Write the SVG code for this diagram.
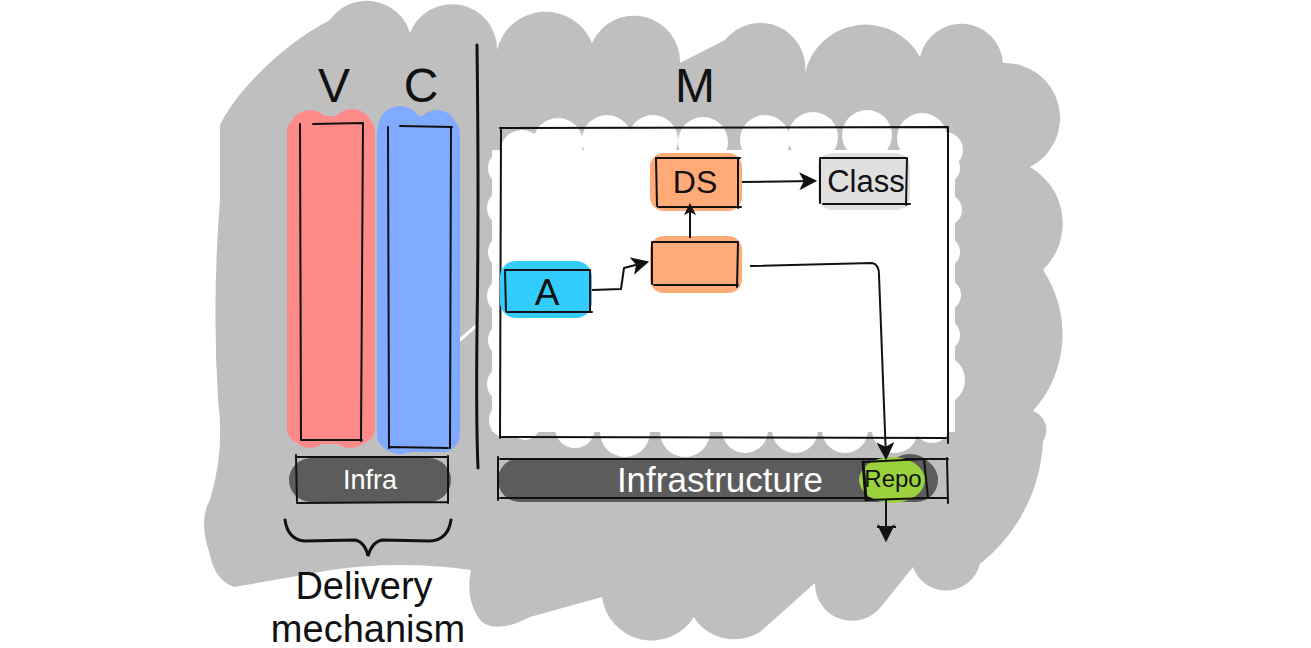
<svg xmlns="http://www.w3.org/2000/svg" width="1311" height="648" viewBox="0 0 1311 648">
<defs>
<style>
.t{font-family:"Liberation Sans",Arial,sans-serif;fill:#111;text-anchor:middle}
.w{fill:#fff}
.ln{stroke:#111;stroke-width:2;fill:none;stroke-linecap:round}
.thk{stroke:#111;stroke-width:3;fill:none;stroke-linecap:round}
.con{stroke:#111;stroke-width:2;fill:none;stroke-linejoin:round}
.bar{fill:#5c5c5c}
</style>
<marker id="ah" viewBox="0 0 12 12" refX="10" refY="6" markerWidth="12" markerHeight="12" markerUnits="userSpaceOnUse" orient="auto">
<path d="M0,0 L12,6 L0,12 L3,6 Z" fill="#111"/>
</marker>
<marker id="ahw" viewBox="0 0 16 16" refX="14" refY="8" markerWidth="18" markerHeight="18" markerUnits="userSpaceOnUse" orient="auto">
<path d="M0,0 L16,8 L0,16 L4,8 Z" fill="#111"/>
</marker>
</defs>
<rect width="1311" height="648" fill="#fff"/>
<g id="background">
<path fill="#bfbfbf" d="M220,125 C240,85 290,40 330,20 A45,45 0 0 1 410,33 A45,45 0 0 1 497,50 A50,50 0 0 1 592,43 A46,46 0 0 1 680,63 L725,40 A45,45 0 0 1 805,73 A62,62 0 0 1 920,57 A42,42 0 0 1 1003,63 A55,55 0 0 1 1030,167 A65,65 0 0 1 1043,270 A115,115 0 0 1 1033,411 A20,20 0 0 1 1043,441 A166,166 0 0 1 980,564 A35,35 0 0 1 913,567 L880,608 A37,37 0 0 1 815,583 L760,632 A45,40 0 0 1 694,617 A50,50 0 0 1 602,597 L530,617 Q495,635 480,620 Q465,600 471,570 Q400,560 331,570 L234,587 Q215,580 210,555 Q198,520 210,500 Q225,450 218,400 Q212,300 220,200 Z"/>
<g fill="#fff">
<rect x="492" y="150" width="463" height="282"/>
<circle cx="522" cy="152" r="22"/><circle cx="558" cy="143" r="25"/><circle cx="607" cy="140" r="25"/><circle cx="653" cy="140" r="25"/><circle cx="703" cy="142" r="25"/><circle cx="765" cy="140" r="25"/><circle cx="813" cy="137" r="25"/><circle cx="867" cy="135" r="25"/><circle cx="922" cy="138" r="25"/><circle cx="945" cy="150" r="18"/>
<circle cx="506" cy="168" r="18"/><circle cx="505" cy="208" r="18"/><circle cx="506" cy="252" r="18"/><circle cx="505" cy="296" r="18"/><circle cx="506" cy="340" r="18"/><circle cx="505" cy="384" r="18"/><circle cx="507" cy="420" r="18"/>
<circle cx="944" cy="168" r="16"/><circle cx="946" cy="210" r="16"/><circle cx="944" cy="252" r="16"/><circle cx="945" cy="295" r="16"/><circle cx="944" cy="335" r="16"/><circle cx="940" cy="380" r="25"/><circle cx="935" cy="415" r="20"/>
<circle cx="525" cy="425" r="15"/><circle cx="575" cy="428" r="20"/><circle cx="625" cy="432" r="25"/><circle cx="685" cy="432" r="25"/><circle cx="745" cy="430" r="23"/><circle cx="795" cy="430" r="23"/><circle cx="845" cy="430" r="23"/><circle cx="895" cy="430" r="23"/><circle cx="932" cy="425" r="18"/>
</g>
<path d="M446,352 L476,326" stroke="#fff" stroke-width="3"/>
</g>
<g id="labels">
<text class="t" x="334" y="102" font-size="48">V</text>
<text class="t" x="421" y="102" font-size="48">C</text>
<text class="t" x="695" y="102" font-size="48">M</text>
<text class="t" x="364" y="599" font-size="38">Delivery</text>
<text class="t" x="368" y="642" font-size="38">mechanism</text>
</g>
<g id="divider">
<path d="M477,45 Q479,200 477,330 Q476,420 478,468" class="thk"/>
</g>
<g id="view">
<rect x="287" y="116" width="88" height="328" rx="16" fill="#ff8a8a"/>
<circle cx="310" cy="130" r="20" fill="#ff8a8a"/><circle cx="352" cy="130" r="21" fill="#ff8a8a"/>
<circle cx="310" cy="430" r="18" fill="#ff8a8a"/><circle cx="350" cy="428" r="20" fill="#ff8a8a"/>
<path class="ln" d="M300,124 L301,440 M313,124 L363,123 M363,123 L361,441 M302,440 L362,440"/>
</g>
<g id="controller">
<rect x="377" y="116" width="83" height="336" rx="18" fill="#80aaff"/>
<circle cx="400" cy="128" r="22" fill="#80aaff"/><circle cx="437" cy="130" r="20" fill="#80aaff"/>
<circle cx="400" cy="434" r="20" fill="#80aaff"/><circle cx="438" cy="432" r="20" fill="#80aaff"/>
<path class="ln" d="M388,127 L389,448 M400,126 L452,127 M451,127 L450,448 M390,447 L448,448"/>
</g>
<g id="infra">
<rect class="bar" x="289" y="458" width="162" height="44" rx="22"/>
<path class="ln" d="M296,457 L448,457 M296,455 L297,503 M448,456 L448,503 M298,503 L448,502"/>
<text class="t w" x="370" y="489" font-size="27">Infra</text>
</g>
<g id="brace">
<path d="M285,520 Q288,540 305,541 L355,540 Q365,542 368,556 Q372,542 382,540 L430,541 Q448,540 451,520" class="thk"/>
</g>
<g id="model-box">
<path class="ln" d="M500,128 L948,127 M501,128 L500,438 M948,127 L948,443 M500,437 L946,438"/>
</g>
<g id="infrastructure">
<rect class="bar" x="498" y="458" width="440" height="44" rx="22"/>
<ellipse class="bar" cx="910" cy="478" rx="25" ry="24"/>
<path class="ln" d="M500,459 L948,459 M498,457 L498,500 M947,458 L948,503 M500,498 L948,498"/>
<text class="t w" x="720" y="492" font-size="35">Infrastructure</text>
</g>
<g id="repo">
<ellipse cx="892" cy="480" rx="33" ry="23" fill="#9bd13d"/>
<path class="ln" d="M863,462 L924,459 L928,498 L866,500 Z"/>
<path d="M863,462 L866,500" class="thk"/>
<text class="t" x="893" y="487" font-size="24">Repo</text>
</g>
<g id="ds">
<rect x="650" y="153" width="92" height="58" rx="14" fill="#ffaa77"/>
<path class="ln" d="M656,158 L740,158 M656,158 L657,206 M738,158 L738,208 M658,207 L741,207"/>
<text class="t" x="695" y="193" font-size="32">DS</text>
</g>
<g id="class">
<rect x="818" y="153" width="92" height="57" rx="14" fill="#e0e0e0"/>
<path class="ln" d="M820,158 L907,158 M820,158 L820,203 M907,158 L906,205 M823,204 L910,204"/>
<text class="t" x="866" y="192" font-size="31">Class</text>
</g>
<g id="middle">
<rect x="650" y="236" width="92" height="57" rx="14" fill="#ffaa77"/>
<path class="ln" d="M652,242 L738,242 M652,242 L652,284 M738,242 L737,287 M654,285 L738,285"/>
</g>
<g id="a">
<rect x="500" y="261" width="92" height="57" rx="16" fill="#33ccff"/>
<path class="ln" d="M505,270 L590,270 M505,270 L506,311 M590,270 L590,312 M507,312 L592,312"/>
<text class="t" x="547" y="305" font-size="37">A</text>
</g>
<g id="connectors">
<path class="con" d="M592,290 L621,289 L624,268 L647,262" marker-end="url(#ahw)"/>
<path class="con" d="M690,238 L690,205" marker-end="url(#ah)"/>
<path class="con" d="M742,182 L815,181" marker-end="url(#ahw)"/>
<path class="con" d="M750,266 L872,263 Q879,264 879,275 L886,458" marker-end="url(#ahw)"/>
<path class="con" d="M886,500 L886,540" marker-end="url(#ahw)"/>
<path class="con" d="M877,527 L896,527"/>
</g>
</svg>
